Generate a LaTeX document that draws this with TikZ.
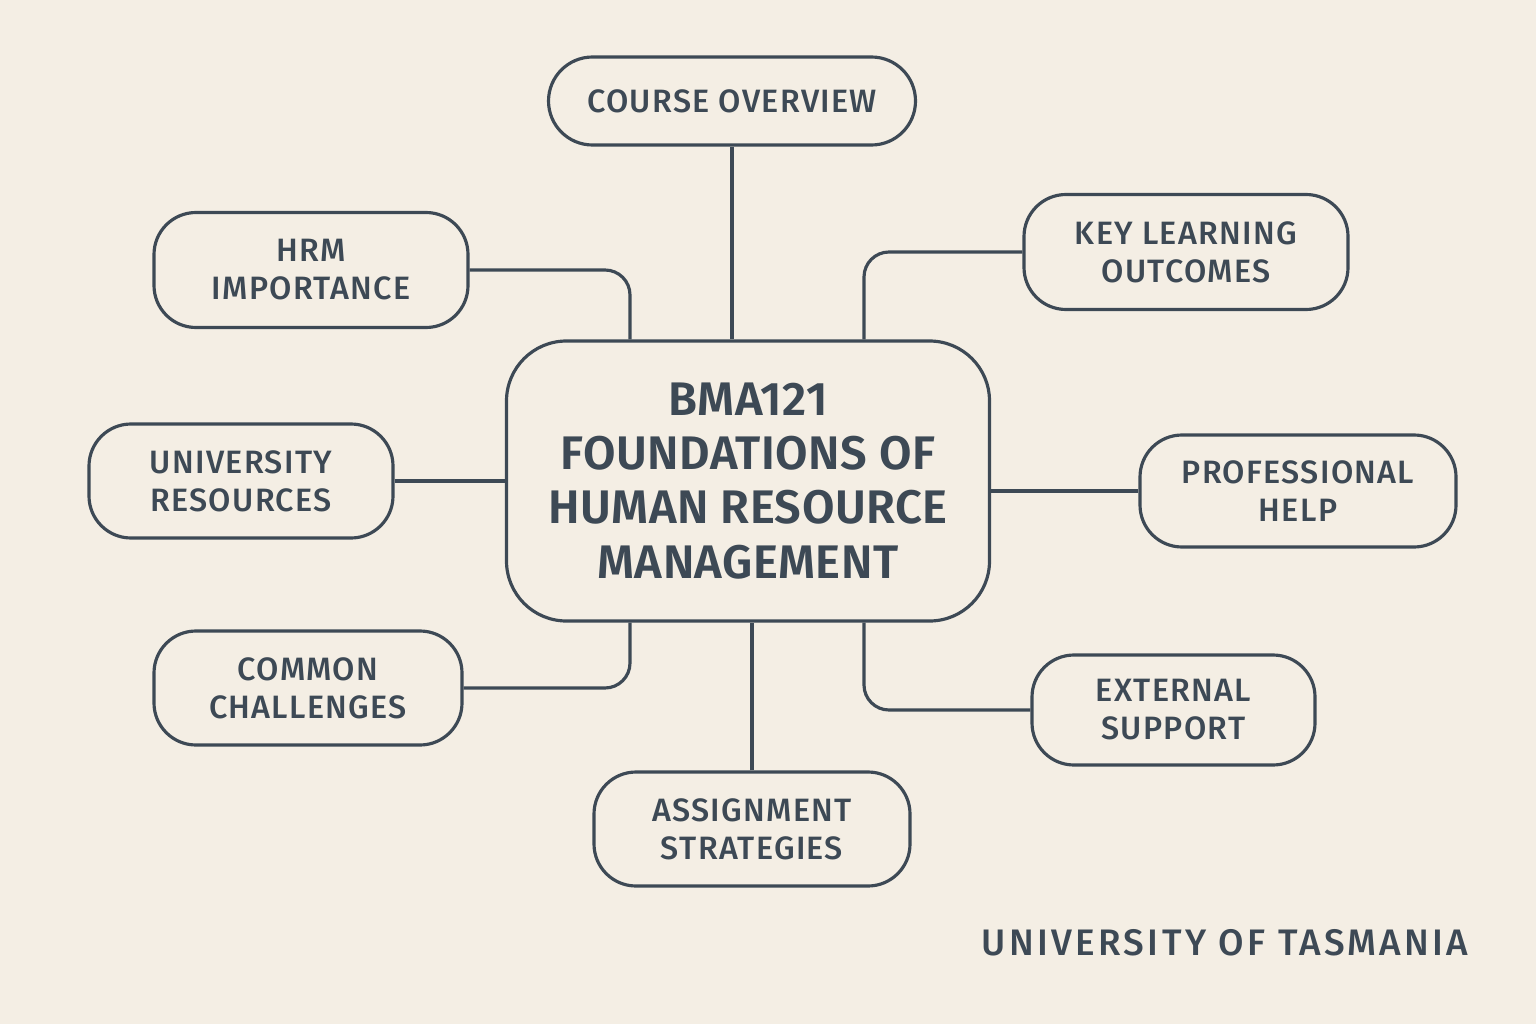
\documentclass[tikz,border=0pt]{standalone}
\usepackage{fontspec}
\setmainfont{Fira Sans}[UprightFont={* Medium}, BoldFont={* SemiBold}]
\usetikzlibrary{positioning}
\definecolor{paper}{HTML}{F4EEE4}
\definecolor{slate}{HTML}{3D4955}
\tikzset{
  topic/.style={draw=slate, line width=0.9pt, rounded corners=0.42cm, align=center,
    text=slate, inner sep=0pt, font=\addfontfeatures{LetterSpace=4}\fontsize{9.2}{10.8}\selectfont},
  hub/.style={draw=slate, line width=0.9pt, rounded corners=0.6cm, align=center,
    text=slate, inner sep=0pt, minimum width=4.83cm, minimum height=2.8cm,
    font=\bfseries\addfontfeatures{LetterSpace=1}\fontsize{13.4}{15.4}\selectfont},
  link/.style={draw=slate, line width=0.9pt, rounded corners=0.25cm}
}
\begin{document}
\begin{tikzpicture}
    \fill[paper] (0,0) rectangle (15.36,10.24);
    \useasboundingbox (0,0) rectangle (15.36,10.24);

    \node[hub] (main) at (7.48,5.43) {BMA121\\FOUNDATIONS OF\\HUMAN RESOURCE\\MANAGEMENT};

    \node[topic, minimum width=3.67cm, minimum height=0.88cm, rounded corners=0.44cm] (course) at (7.32,9.23) {COURSE OVERVIEW};
    \node[topic, minimum width=3.14cm, minimum height=1.15cm] (hrm) at (3.11,7.54) {HRM\\IMPORTANCE};
    \node[topic, minimum width=3.24cm, minimum height=1.15cm] (klo) at (11.86,7.72) {KEY LEARNING\\OUTCOMES};
    \node[topic, minimum width=3.04cm, minimum height=1.14cm] (unires) at (2.41,5.43) {UNIVERSITY\\RESOURCES};
    \node[topic, minimum width=3.16cm, minimum height=1.12cm] (prof) at (12.98,5.33) {PROFESSIONAL\\HELP};
    \node[topic, minimum width=3.08cm, minimum height=1.14cm] (common) at (3.08,3.36) {COMMON\\CHALLENGES};
    \node[topic, minimum width=2.83cm, minimum height=1.10cm] (ext) at (11.735,3.14) {EXTERNAL\\SUPPORT};
    \node[topic, minimum width=3.16cm, minimum height=1.14cm] (assign) at (7.52,1.95) {ASSIGNMENT\\STRATEGIES};

    \node[text=slate, font=\addfontfeatures{LetterSpace=9}\fontsize{10.5}{12}\selectfont] (uot) at (12.25,0.81) {UNIVERSITY OF TASMANIA};

    % links to the hub
    \draw[link] (course.south) -- (course.south |- main.north);
    \draw[link] (hrm.east) -| ([xshift=-1.18cm]main.north);
    \draw[link] (klo.west) -| ([xshift=1.16cm]main.north);
    \draw[link] (unires.east) -- (unires.east -| main.west);
    \draw[link] (prof.west) -- (prof.west -| main.east);
    \draw[link] ([xshift=-1.18cm]main.south) |- (common.east);
    \draw[link] (assign.north) -- (assign.north |- main.south);
    \draw[link] ([xshift=1.16cm]main.south) |- (ext.west);
\end{tikzpicture}
\end{document}
